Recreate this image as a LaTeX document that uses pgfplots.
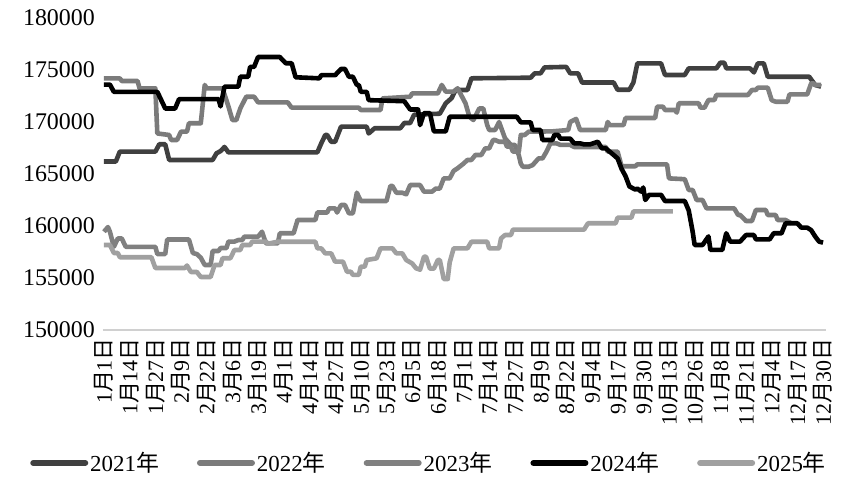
\documentclass[border=0pt]{standalone}
\usepackage{fontspec}
\setmainfont{Liberation Serif}
\newfontfamily\cjk{Noto Sans CJK SC}
\usepackage{pgfplots}
\pgfplotsset{compat=1.18}
\newcommand\M{{\cjk 月}}
\newcommand\D{{\cjk 日}}
\newcommand\Y{{\cjk 年}}
\definecolor{c21}{HTML}{404040}
\definecolor{c22}{HTML}{7B7B7B}
\definecolor{c23}{HTML}{808080}
\definecolor{c24}{HTML}{000000}
\definecolor{c25}{HTML}{A0A0A0}
\definecolor{axgray}{HTML}{D0D0D0}
\begin{document}
\begin{tikzpicture}
\begin{axis}[
  scale only axis, width=723bp, height=312bp,
  xmin=-0.5, xmax=365.5, ymin=150000, ymax=180000,
  axis lines*=left,
  y axis line style={draw=none},
  x axis line style={draw=axgray, line width=1.6bp},
  major tick length=0pt,
  tick style={draw=none},
  xtick={0,13,...,364},
  xticklabels={1\M1\D,1\M14\D,1\M27\D,2\M9\D,2\M22\D,3\M6\D,3\M19\D,4\M1\D,4\M14\D,4\M27\D,5\M10\D,5\M23\D,6\M5\D,6\M18\D,7\M1\D,7\M14\D,7\M27\D,8\M9\D,8\M22\D,9\M4\D,9\M17\D,9\M30\D,10\M13\D,10\M26\D,11\M8\D,11\M21\D,12\M4\D,12\M17\D,12\M30\D},
  xticklabel style={rotate=90, anchor=east, inner sep=0pt, font=\fontsize{22}{24}\selectfont},
  xticklabel shift=8bp,
  ytick={150000,155000,...,180000},
  yticklabel style={anchor=east, inner sep=0pt, font=\fontsize{24}{26}\selectfont},
  yticklabel shift=8bp,
  /pgf/number format/assume math mode=true,
  /pgf/number format/fixed,
  /pgf/number format/set thousands separator={},
  scaled y ticks=false,
  clip=false,
  legend columns=5,
  legend cell align=left,
  legend style={at={(0.451,-0.426)}, anchor=center, draw=none, fill=none,
    font=\fontsize{23}{25}\selectfont,
    /tikz/every even column/.append style={column sep=36bp}},
  legend image code/.code={\draw[#1, line width=6bp, line cap=round] (0bp,0bp) -- (52bp,0bp);},
  every axis plot/.append style={line width=4.6bp, line join=round, no markers},
]
% 2021
\addplot[color=c21] coordinates {(0,166200)(6,166200)(8,167150)(26,167150)(28,167860)(31,167860)(33,166350)(55,166350)(57,167000)(59,167200)(61,167600)(63,167080)(108,167080)(110,167950)(112,168750)(113,168750)(115,168100)(117,168100)(120,169550)(133,169550)(134,168900)(137,169400)(150,169400)(152,169900)(155,169900)(157,170700)(170,170800)(173,171800)(176,172300)(178,173080)(184,173080)(186,174200)(216,174260)(218,174680)(221,174680)(223,175250)(234,175300)(236,174680)(240,174680)(242,173800)(258,173800)(260,173100)(266,173100)(268,173800)(270,175640)(282,175640)(284,174520)(294,174520)(296,175160)(310,175160)(312,175700)(314,175700)(315,175160)(327,175160)(329,174770)(331,175640)(334,175640)(336,174350)(357,174350)(360,173560)(363,173400)};
% 2022
\addplot[color=c22] coordinates {(0,174200)(8,174200)(9,173940)(17,173940)(18,173240)(26,173240)(27,168900)(33,168750)(34,168270)(37,168270)(39,169070)(42,169070)(43,169880)(49,169880)(51,173560)(52,173240)(60,173240)(63,171500)(65,170190)(67,170190)(69,171300)(72,172430)(76,172430)(78,171890)(93,171890)(95,171380)(129,171380)(130,171150)(140,171150)(141,172270)(155,172430)(156,172750)(169,172750)(171,173560)(173,172920)(177,172920)(179,173240)(183,171800)(185,170500)(187,170190)(190,171300)(192,171300)(194,169700)(195,169230)(198,169230)(200,170000)(203,168430)(206,167800)(208,167800)(210,166800)(211,166000)(212,165700)(215,165700)(217,165860)(220,166500)(222,166500)(224,167150)(226,167950)(229,167950)(231,167800)(236,167800)(238,167600)(254,167600)(255,167150)(260,167150)(262,165750)(269,165750)(270,165930)(285,165930)(286,164580)(294,164500)(296,163460)(298,163460)(300,162500)(303,162500)(305,161700)(319,161700)(321,161060)(322,161060)(325,160480)(328,160480)(330,161540)(335,161540)(336,161060)(340,161060)(341,160580)(345,160580)(348,160250)};
% 2023
\addplot[color=c23] coordinates {(0,159450)(2,159900)(3,159450)(5,158000)(7,158800)(9,158800)(11,158000)(26,158000)(27,157300)(31,157300)(32,158700)(43,158700)(45,157400)(47,157300)(49,156950)(51,156250)(54,156250)(55,157600)(58,157600)(59,157880)(62,157880)(63,158500)(66,158500)(68,158650)(70,158650)(71,158970)(78,158970)(80,159450)(82,158330)(88,158330)(89,159300)(96,159300)(98,160580)(107,160580)(108,161300)(113,161300)(114,161700)(117,161700)(118,161300)(120,162020)(122,162020)(124,161220)(126,161220)(128,163200)(130,162400)(143,162400)(145,163850)(146,163850)(148,163200)(151,163200)(153,163050)(155,163940)(160,163940)(162,163300)(166,163300)(168,163600)(170,163600)(172,164580)(175,164580)(177,165300)(179,165550)(182,166000)(184,166350)(186,166350)(188,166830)(191,166830)(193,167470)(195,167470)(197,168270)(198,168270)(200,168100)(203,168100)(204,167630)(206,167630)(207,167150)(210,167150)(211,168750)(213,168750)(215,169070)(227,169100)(235,169230)(236,170000)(239,170300)(241,169230)(254,169230)(255,170000)(256,169700)(263,169700)(264,170380)(279,170380)(280,171470)(283,171470)(284,171150)(289,171150)(290,170900)(291,171800)(301,171800)(302,171380)(304,171380)(306,172115)(309,172115)(310,172600)(326,172600)(328,173080)(330,173080)(331,173300)(336,173300)(338,172100)(340,171950)(346,171950)(347,172650)(356,172650)(358,173720)(359,173720)(360,173560)(363,173560)};
% 2024
\addplot[color=c24] coordinates {(0,173600)(3,173600)(5,172900)(27,172900)(31,171300)(36,171300)(38,172200)(58,172200)(59,171500)(61,173400)(68,173400)(69,174350)(73,174350)(74,175300)(76,175300)(78,176250)(89,176250)(92,175650)(95,175650)(97,174300)(109,174200)(110,174500)(117,174500)(120,175100)(122,175100)(124,174350)(126,174350)(128,173560)(129,173560)(130,172900)(133,172900)(134,172100)(152,172000)(155,171200)(159,171200)(160,169700)(162,170850)(165,170850)(167,169100)(173,169100)(175,170500)(209,170500)(211,169970)(216,169970)(217,169230)(221,169230)(222,168270)(227,168270)(228,168750)(230,168750)(231,168400)(236,168400)(238,167950)(241,167950)(243,167850)(246,167850)(250,168100)(252,167470)(254,167470)(258,166830)(260,166500)(262,165500)(264,164800)(266,163800)(269,163500)(270,163600)(272,163300)(273,163700)(274,162500)(276,163000)(282,163000)(284,162400)(294,162400)(296,161500)(298,159450)(299,158170)(303,158170)(306,159000)(307,157700)(313,157700)(315,159300)(317,158500)(322,158500)(325,159130)(329,159130)(330,158720)(337,158720)(339,159300)(343,159300)(345,160260)(351,160260)(353,159840)(356,159840)(358,159600)(360,159000)(362,158500)(364,158400)};
% 2025
\addplot[color=c25] coordinates {(0,158170)(3,158170)(5,157400)(7,157400)(8,157000)(24,157000)(26,155960)(41,155960)(42,156200)(44,155580)(47,155580)(49,155100)(54,155100)(56,156250)(59,156250)(60,156900)(64,156900)(66,157690)(69,157690)(70,158170)(74,158170)(75,158500)(82,158500)(83,158300)(88,158490)(107,158490)(108,157850)(110,157850)(112,157370)(115,157370)(117,156570)(121,156570)(123,155600)(125,155600)(126,155300)(129,155300)(130,156090)(132,156090)(133,156730)(138,156890)(140,157850)(146,157850)(148,157370)(151,157370)(153,156730)(156,156400)(158,155930)(160,155800)(162,157050)(163,157050)(165,155900)(167,155900)(169,156730)(170,156730)(172,154900)(174,154900)(175,156500)(177,157850)(184,157850)(186,158490)(194,158490)(195,157850)(200,157850)(201,158810)(203,159130)(206,159130)(207,159650)(243,159650)(245,160260)(259,160260)(260,160800)(267,160800)(268,161400)(288,161400)};
\legend{2021\Y,2022\Y,2023\Y,2024\Y,2025\Y}
\end{axis}
\pgfresetboundingbox
\path[use as bounding box] (-103bp,-149bp) rectangle (741bp,330bp);
\end{tikzpicture}
\end{document}
